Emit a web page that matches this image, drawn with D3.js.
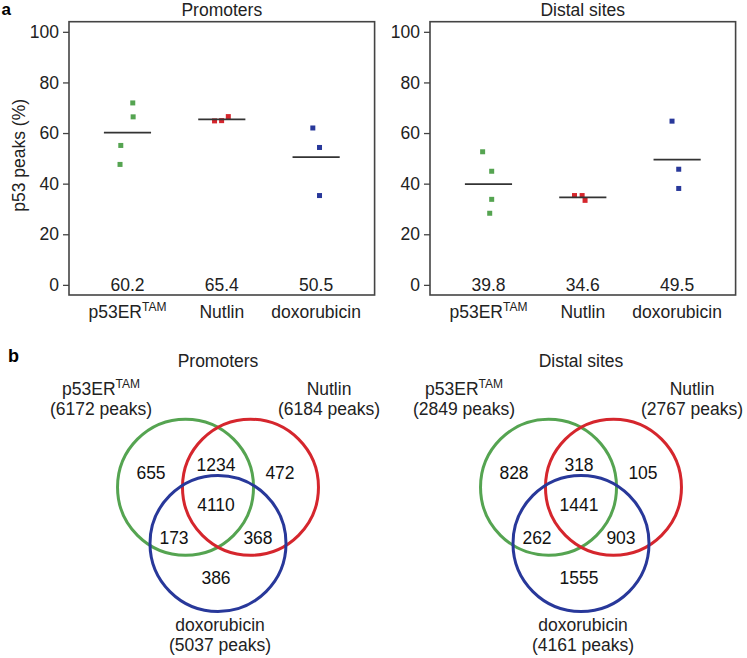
<!DOCTYPE html>
<html>
<head>
<meta charset="utf-8">
<script src="https://cdn.jsdelivr.net/npm/d3@7"></script>
<style>
  html, body { margin: 0; padding: 0; background: #fff; }
  svg { display: block; font-family: "Liberation Sans", Arial, Helvetica, sans-serif; }
</style>
</head>
<body>
<svg id="chart" width="747" height="658"></svg>
<script>
// ---------- data ----------
const categories = ["p53ER", "Nutlin", "doxorubicin"];
const categorySup = ["TAM", "", ""];
const panelTitles = ["Promoters", "Distal sites"];
const yTicks = [0, 20, 40, 60, 80, 100];

const promoterValues = [[71.9, 66.4, 55.1, 47.6], [64.8, 64.9, 66.5], [62.0, 54.3, 35.3]];
const promoterJitter = [[0.056, 0.060, -0.071, -0.079], [-0.077, -0.002, 0.069], [-0.035, 0.036, 0.036]];
const promoterMeans = [60.2, 65.4, 50.5];

const distalValues = [[52.6, 44.9, 33.8, 28.3], [35.3, 35.3, 33.4], [64.7, 45.7, 38.1]];
const distalJitter = [[-0.062, 0.034, 0.034, 0.013], [-0.088, -0.007, 0.024], [-0.054, 0.017, 0.017]];
const distalMeans = [39.8, 34.6, 49.5];

const vennSetNames = ["p53ER", "Nutlin", "doxorubicin"];
const promoterTotals = [6172, 6184, 5037];
const distalTotals = [2849, 2767, 4161];
const regionKeys = ["A", "AB", "B", "ABC", "AC", "BC", "C"];
const promoterRegions = [655, 1234, 472, 4110, 173, 368, 386];
const distalRegions = [828, 318, 105, 1441, 262, 903, 1555];

const colors = ["#55a451", "#d5262d", "#28389a"];

// ---------- layout ----------
const svg = d3.select("#chart");
const font = 17.5;
const plotW = 305.6, plotH = 273.3, plotTop = 21.7;
const panelLefts = [69, 430];

const y = d3.scaleLinear().domain([-4, 104]).range([plotH, 0]);
const x = d3.scaleLinear().domain([0.38, 3.62]).range([0, plotW]);

const panelData = [
  { title: panelTitles[0], values: promoterValues, jitter: promoterJitter, means: promoterMeans },
  { title: panelTitles[1], values: distalValues, jitter: distalJitter, means: distalMeans }
];

svg.append("text").attr("x", 1.5).attr("y", 15).attr("font-size", 17).attr("font-weight", "bold").text("a");
svg.append("text").attr("x", 8).attr("y", 361.5).attr("font-size", 18).attr("font-weight", "bold").text("b");

panelData.forEach((p, pi) => {
  const g = svg.append("g").attr("transform", `translate(${panelLefts[pi]},${plotTop})`);

  // axis
  const ax = g.append("g").call(d3.axisLeft(y).tickValues(yTicks).tickSize(6).tickPadding(4));
  ax.select(".domain").remove();
  ax.selectAll(".tick line").attr("stroke", "#444").attr("stroke-width", 1.3);
  ax.selectAll(".tick text").attr("font-size", font).attr("fill", "#222")
    .attr("font-family", "Liberation Sans, Arial, sans-serif");

  // frame
  g.append("rect").attr("x", 0).attr("y", 0).attr("width", plotW).attr("height", plotH)
    .attr("fill", "none").attr("stroke", "#444").attr("stroke-width", 1.6);

  // title
  g.append("text").attr("x", plotW / 2).attr("y", -5.5).attr("text-anchor", "middle")
    .attr("font-size", font).attr("fill", "#222").text(p.title);

  categories.forEach((c, ci) => {
    const cx = x(ci + 1);
    // points
    g.selectAll(null).data(p.values[ci]).enter().append("rect")
      .attr("x", (v, k) => x(ci + 1 + p.jitter[ci][k]) - 2.5)
      .attr("y", v => y(v) - 2.5)
      .attr("width", 5).attr("height", 5)
      .attr("fill", colors[ci]);
    // mean line
    g.append("line")
      .attr("x1", x(ci + 1 - 0.25)).attr("x2", x(ci + 1 + 0.25))
      .attr("y1", y(p.means[ci])).attr("y2", y(p.means[ci]))
      .attr("stroke", "#333").attr("stroke-width", 1.8);
    // mean label
    g.append("text").attr("x", cx).attr("y", y(0)).attr("dy", "0.36em")
      .attr("text-anchor", "middle").attr("font-size", font).attr("fill", "#222")
      .text(p.means[ci].toFixed(1));
    // category label
    const t = g.append("text").attr("x", cx).attr("y", plotH + 23)
      .attr("text-anchor", "middle").attr("font-size", font).attr("fill", "#222");
    t.append("tspan").text(c);
    if (categorySup[ci]) {
      t.append("tspan").attr("font-size", 12).attr("dy", -7).text(categorySup[ci]);
    }
  });

  if (pi === 0) {
    svg.append("text")
      .attr("transform", `translate(25,${plotTop + plotH / 2 - 3}) rotate(-90)`)
      .attr("text-anchor", "middle").attr("font-size", font).attr("fill", "#222")
      .text("p53 peaks (%)");
  }
});

// ---------- Venn diagrams ----------
const vennCenters = [[218, 506], [581, 506]];
const vennR = 68;
const circleOffset = 37.5;
const circleAngles = [-150, -30, 90];
const regionOffsets = {
  A: [-67, -33], AB: [-2, -41], B: [62, -33], ABC: [-2, -1],
  AC: [-44, 32], BC: [40, 32], C: [-2, 72]
};
const vennData = [
  { title: panelTitles[0], totals: promoterTotals, regions: promoterRegions },
  { title: panelTitles[1], totals: distalTotals, regions: distalRegions }
];

vennData.forEach((v, vi) => {
  const [vx, vy] = vennCenters[vi];
  const g = svg.append("g").attr("transform", `translate(${vx},${vy})`);

  circleAngles.forEach((a, i) => {
    const rad = a * Math.PI / 180;
    g.append("circle")
      .attr("cx", circleOffset * Math.cos(rad))
      .attr("cy", circleOffset * Math.sin(rad))
      .attr("r", vennR)
      .attr("fill", "none").attr("stroke", colors[i]).attr("stroke-width", 3);
  });

  regionKeys.forEach((k, i) => {
    g.append("text").attr("x", regionOffsets[k][0]).attr("y", regionOffsets[k][1])
      .attr("dy", "0.36em").attr("text-anchor", "middle")
      .attr("font-size", font).attr("fill", "#111").text(v.regions[i]);
  });

  g.append("text").attr("x", 0).attr("y", -139).attr("text-anchor", "middle")
    .attr("font-size", font).attr("fill", "#222").text(v.title);

  const labelPos = [[-117, -111.5], [111, -111.5], [2, 124.5]];
  const lineGap = 20.5;
  vennSetNames.forEach((n, i) => {
    const t = g.append("text").attr("x", labelPos[i][0]).attr("y", labelPos[i][1])
      .attr("text-anchor", "middle").attr("font-size", font).attr("fill", "#222");
    t.append("tspan").text(n);
    if (categorySup[i]) t.append("tspan").attr("font-size", 12).attr("dy", -7).text(categorySup[i]);
    g.append("text").attr("x", labelPos[i][0]).attr("y", labelPos[i][1] + lineGap)
      .attr("text-anchor", "middle").attr("font-size", font).attr("fill", "#222")
      .text(`(${v.totals[i]} peaks)`);
  });
});
</script>
</body>
</html>
